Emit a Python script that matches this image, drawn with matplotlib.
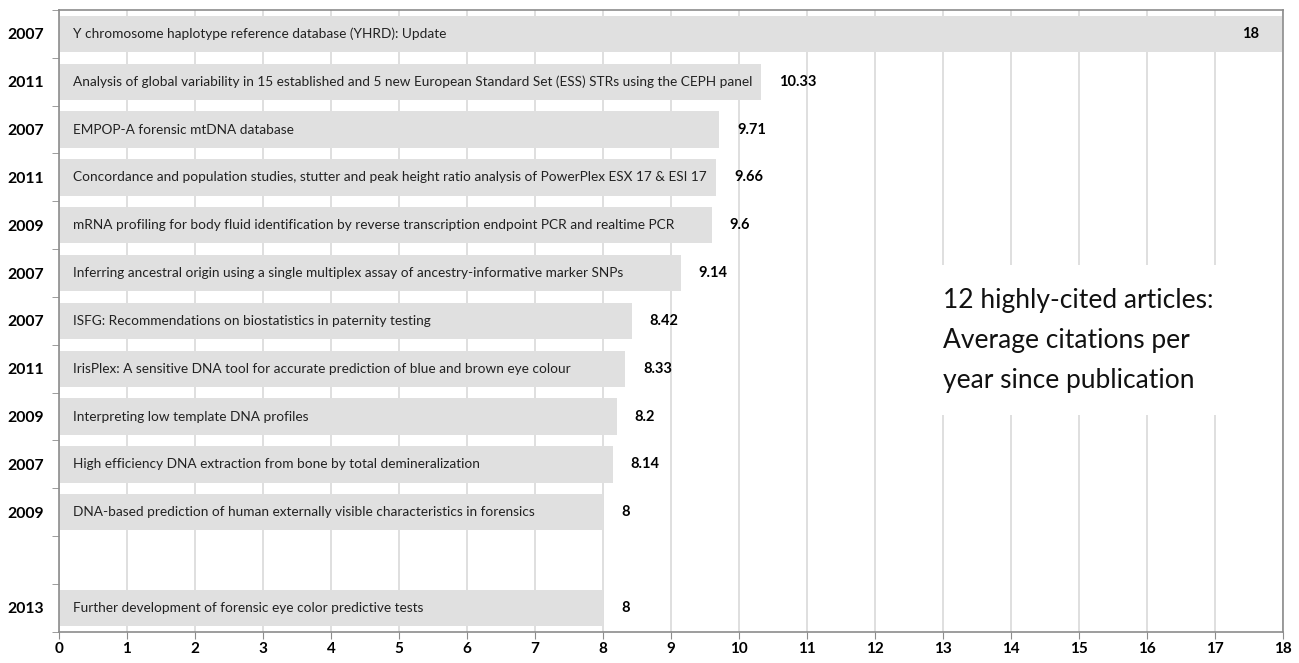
import numpy as np
import matplotlib.pyplot as plt
import matplotlib
from matplotlib.ticker import FixedLocator

matplotlib.rcParams["font.family"] = ["Lato", "DejaVu Sans"]

# data (top to bottom); None marks the empty row in the chart
years = ["2007", "2011", "2007", "2011", "2009", "2007", "2007", "2011",
         "2009", "2007", "2009", None, "2013"]
titles = [
    "Y chromosome haplotype reference database (YHRD): Update",
    "Analysis of global variability in 15 established and 5 new European Standard Set (ESS) STRs using the CEPH panel",
    "EMPOP-A forensic mtDNA database",
    "Concordance and population studies, stutter and peak height ratio analysis of PowerPlex ESX 17 & ESI 17",
    "mRNA profiling for body fluid identification by reverse transcription endpoint PCR and realtime PCR",
    "Inferring ancestral origin using a single multiplex assay of ancestry-informative marker SNPs",
    "ISFG: Recommendations on biostatistics in paternity testing",
    "IrisPlex: A sensitive DNA tool for accurate prediction of blue and brown eye colour",
    "Interpreting low template DNA profiles",
    "High efficiency DNA extraction from bone by total demineralization",
    "DNA-based prediction of human externally visible characteristics in forensics",
    None,
    "Further development of forensic eye color predictive tests",
]
values = [18, 10.33, 9.71, 9.66, 9.6, 9.14, 8.42, 8.33, 8.2, 8.14, 8, None, 8]
value_labels = ["18", "10.33", "9.71", "9.66", "9.6", "9.14", "8.42", "8.33",
                "8.2", "8.14", "8", None, "8"]
note = "12 highly-cited articles:\nAverage citations per\nyear since publication"

fig = plt.figure(figsize=(12.99, 6.63), dpi=100)
ax = fig.add_axes([0.0454, 0.047, 0.9423, 0.938])

n = len(values)
ypos = np.arange(n)
bar_color = "#e0e0e0"
spine_color = "#8c8c8c"

for i in range(n):
    if values[i] is None:
        continue
    ax.barh(ypos[i], values[i], height=0.76, color=bar_color, zorder=2)
    ax.text(0.2, ypos[i], titles[i], va="center", ha="left",
            fontsize=9.8, color="#222222", zorder=3)
    if values[i] >= 17:
        ax.annotate(value_labels[i], (values[i], ypos[i]), xytext=(-17, 0),
                    textcoords="offset points", va="center", ha="right",
                    fontsize=10.5, fontweight="bold", zorder=3)
    else:
        ax.annotate(value_labels[i], (values[i], ypos[i]), xytext=(13, 0),
                    textcoords="offset points", va="center", ha="left",
                    fontsize=10.5, fontweight="bold", zorder=3)

ax.set_xlim(0, 18)
ax.set_ylim(n - 0.5, -0.5)
ax.set_xticks(range(0, 19))
ax.set_xticklabels([str(t) for t in range(0, 19)], fontweight="bold", fontsize=11)

ax.set_yticks(ypos)
ax.set_yticklabels([y if y else "" for y in years], fontweight="bold", fontsize=11.3)
ax.yaxis.set_minor_locator(FixedLocator(np.arange(-0.5, n, 1.0)))
ax.tick_params(axis="y", which="major", length=0, pad=11)
ax.tick_params(axis="y", which="minor", length=5, direction="out", color=spine_color)
ax.tick_params(axis="x", length=5, direction="out", color=spine_color, pad=2)

ax.grid(axis="x", color="#d9d9d9", linewidth=1.2, zorder=0)
ax.set_axisbelow(True)
for s in ax.spines.values():
    s.set_color(spine_color)
    s.set_linewidth(1.2)

ax.text(13, 6.4, note, fontsize=19, color="#111111", va="center", ha="left",
        linespacing=1.75, zorder=4,
        bbox=dict(boxstyle="square,pad=0.85", facecolor="white", edgecolor="none"))

fig.savefig("out.png", dpi=100, facecolor="white")
